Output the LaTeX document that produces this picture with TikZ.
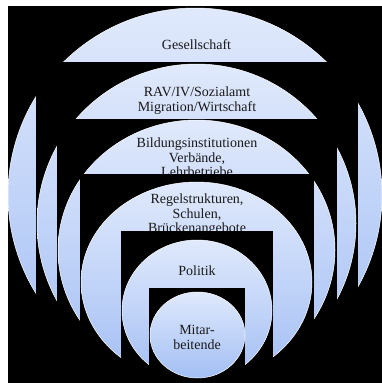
\documentclass[tikz,border=0pt]{standalone}
\usepackage{fontspec}
\setmainfont{Liberation Serif}
\definecolor{topc}{RGB}{224,233,252}
\definecolor{botc}{RGB}{162,190,244}
\definecolor{txt}{RGB}{25,25,25}
\begin{document}
\begin{tikzpicture}[x=1pt,y=-1pt,
  lvl/.style={top color=topc, bottom color=botc, draw=white, line width=0.5pt},
  blk/.style={fill=black},
  lbl/.style={font=\fontsize{14}{14.5}\selectfont, text=txt, align=center, inner sep=0pt}]
\fill[white] (0,0) rectangle (382,383);
\useasboundingbox (0,0) rectangle (382,383);
\fill[black] (8,6) rectangle (382,383);
\begin{scope}
\clip (8,6) rectangle (382,383);
% level 1
\shade[lvl] (195,195) ellipse [x radius=187, y radius=187];
\node[lbl] (t1) at (196.5,45) {Gesellschaft};
% level 2
\fill[blk] (36,62) rectangle (358,390);
\shade[lvl] (196.5,223.5) ellipse [x radius=159.5, y radius=159.5];
\node[lbl] (t2) at (197,100.5) {RAV/IV/Sozialamt\\Migration/Wirtschaft};
% level 3
\fill[blk] (57,119) rectangle (337,390);
\shade[lvl] (196.5,250) ellipse [x radius=138.5, y radius=130];
\node[lbl] (t3) at (197,157.5) {Bildungsinstitutionen\\Verbände,\\Lehrbetriebe};
% level 4
\fill[blk] (80,174) rectangle (314,390);
\shade[lvl] (196.5,282) ellipse [x radius=115.5, y radius=100];
\node[lbl] (t4) at (197,215) {Regelstrukturen,\\Schulen,\\Brückenangebote};
% level 5
\fill[blk] (121,231) rectangle (273,390);
\shade[lvl] (197,310.5) ellipse [x radius=75, y radius=70.5];
\node[lbl] (t5) at (197,271) {Politik};
% level 6
\fill[blk] (149,288) rectangle (245,390);
\shade[lvl] (197.5,335) ellipse [x radius=47.5, y radius=43];
\node[lbl] (t6) at (197,337.5) {Mitar-\\beitende};
\end{scope}
\end{tikzpicture}
\end{document}
